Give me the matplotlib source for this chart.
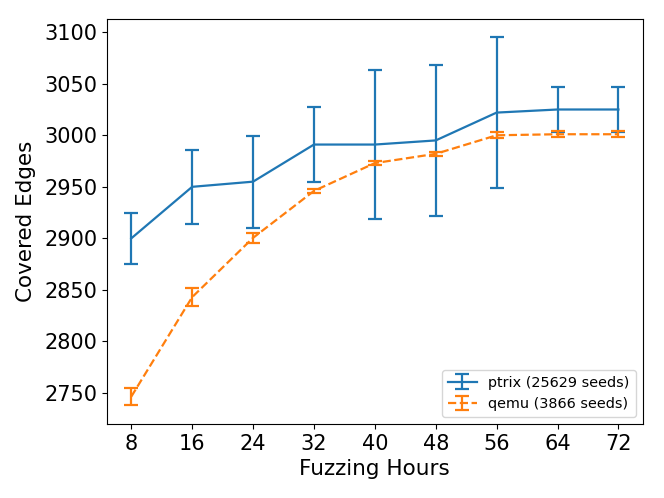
import matplotlib
matplotlib.use('Agg')
import matplotlib.pyplot as plt
import numpy as np

hours = [8, 16, 24, 32, 40, 48, 56, 64, 72]

ptrix_mean = [2900, 2950, 2955, 2991, 2991, 2995, 3022, 3025, 3025]
ptrix_err = [25, 36, 44.5, 36, 72.5, 73.5, 73, 21.5, 21.5]

qemu_mean = [2746.5, 2843, 2900.5, 2946, 2973, 2982, 3000, 3001, 3001]
qemu_err = [8.5, 9, 5, 2, 2.3, 2.2, 3, 3, 3]

fig, ax = plt.subplots(figsize=(6.64, 4.98), dpi=100)
ax.errorbar(hours, ptrix_mean, yerr=ptrix_err, capsize=5, linewidth=1.6,
            elinewidth=1.6, capthick=1.6, label='ptrix (25629 seeds)')
ax.errorbar(hours, qemu_mean, yerr=qemu_err, capsize=5, linewidth=1.6,
            elinewidth=1.6, capthick=1.6, linestyle='--',
            label='qemu (3866 seeds)')

ax.set_xticks(hours)
ax.set_yticks(np.arange(2750, 3101, 50))
ax.tick_params(labelsize=15)
ax.set_xlabel('Fuzzing Hours', fontsize=15.5)
ax.set_ylabel('Covered Edges', fontsize=15.5, labelpad=6)
ax.legend(loc='lower right', fontsize=10.4)

plt.subplots_adjust(left=0.161, right=0.968, top=0.962, bottom=0.149)
plt.savefig('out.png')
